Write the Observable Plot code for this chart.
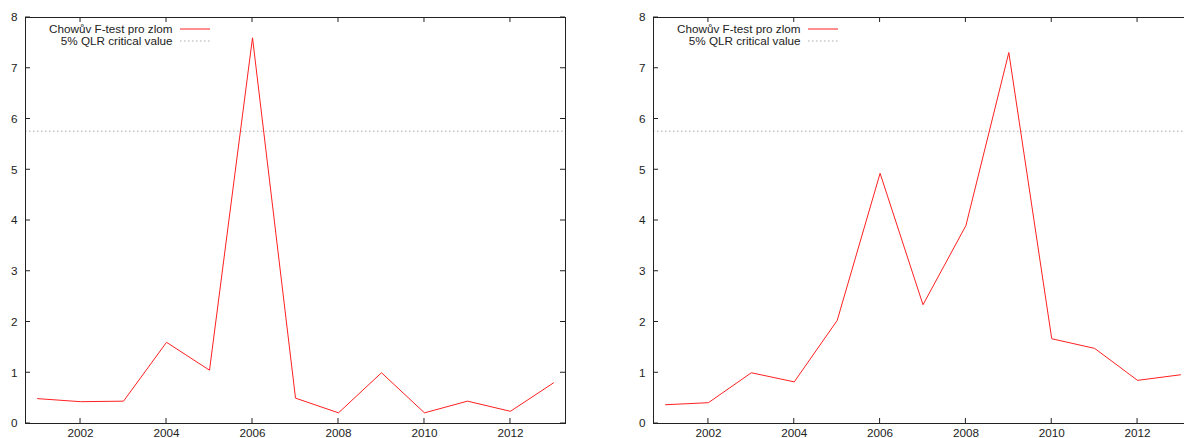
<!DOCTYPE html>
<html><head><meta charset="utf-8">
<script src="https://cdn.jsdelivr.net/npm/d3@7"></script>
<script src="https://cdn.jsdelivr.net/npm/@observablehq/plot@0.6"></script>
<style>
html,body{margin:0;padding:0;background:#fff;overflow:hidden;width:1184px;height:438px;}
#wrap{display:flex;flex-wrap:nowrap;width:1184px;}
#p1{flex:0 0 628px;width:628px;}
#p2{flex:0 0 556px;width:556px;}
</style></head><body><div id="wrap"><div id="p1"></div><div id="p2"></div></div>
<script>
const years = [2001, 2002, 2003, 2004, 2005, 2006, 2007, 2008, 2009, 2010, 2011, 2012, 2013];
const chowLeft = [0.49, 0.43, 0.44, 1.60, 1.05, 7.60, 0.50, 0.21, 1.00, 0.21, 0.44, 0.24, 0.80];
const chowRight = [0.37, 0.41, 1.00, 0.82, 2.03, 4.93, 2.34, 3.90, 7.31, 1.67, 1.48, 0.85, 0.96];
const criticalValue = 5.76;
const xTicks = [2002, 2004, 2006, 2008, 2010, 2012];
const yTicks = [0, 1, 2, 3, 4, 5, 6, 7, 8];
const legendLabels = ["Chowův F-test pro zlom", "5% QLR critical value"];
const xDomain = [2000.72, 2013.28];
const yDomain = [0, 8];

function panel(values, target, W, mR) {
  const data = years.map((year, i) => ({year, value: values[i]}));
  const H = 438, mL = 25, mT = 17, mB = 15;
  const plot = Plot.plot({
    width: W, height: H, marginLeft: mL, marginRight: mR, marginTop: mT, marginBottom: mB,
    style: {fontFamily: "'Liberation Sans', Arial, sans-serif", fontSize: "11.7px", color: "#222", background: "#fff"},
    x: {domain: xDomain, label: null},
    y: {domain: yDomain, label: null},
    marks: [
      Plot.ruleY([criticalValue], {stroke: "#aaa", strokeDasharray: "1.5,2.5"}),
      Plot.line(data, {x: "year", y: "value", stroke: "#ff2020", strokeWidth: 1}),
      Plot.axisX(xTicks, {anchor: "bottom", tickSize: 0, tickPadding: 5.5, tickFormat: d => String(d), label: null}),
      Plot.axisY(yTicks, {anchor: "left", tickSize: 0, tickPadding: 8, tickFormat: d => String(d), label: null}),
      Plot.frame({stroke: "#222", strokeWidth: 1}),
      Plot.text([legendLabels[0]], {frameAnchor: "top-left", dx: 147, dy: 12, textAnchor: "end", lineAnchor: "middle"}),
      Plot.text([legendLabels[1]], {frameAnchor: "top-left", dx: 147, dy: 24, textAnchor: "end", lineAnchor: "middle"})
    ]
  });
  const svg = d3.select(plot);
  const sx = plot.scale("x"), sy = plot.scale("y");
  const g = svg.append("g").attr("stroke", "#222").attr("stroke-width", 1);
  for (const t of xTicks) {
    const x = sx.apply(t);
    g.append("line").attr("x1", x).attr("x2", x).attr("y1", H - mB).attr("y2", H - mB - 5);
    g.append("line").attr("x1", x).attr("x2", x).attr("y1", mT).attr("y2", mT + 5);
  }
  for (const v of yTicks) {
    const y = sy.apply(v);
    g.append("line").attr("x1", mL).attr("x2", mL + 5).attr("y1", y).attr("y2", y);
    g.append("line").attr("x1", W - mR).attr("x2", W - mR - 5).attr("y1", y).attr("y2", y);
  }
  svg.append("line").attr("x1", mL + 155).attr("x2", mL + 185).attr("y1", mT + 12).attr("y2", mT + 12)
    .attr("stroke", "#ff2020").attr("stroke-width", 1);
  svg.append("line").attr("x1", mL + 155).attr("x2", mL + 185).attr("y1", mT + 24).attr("y2", mT + 24)
    .attr("stroke", "#aaa").attr("stroke-dasharray", "1.5,2.5");
  document.getElementById(target).appendChild(plot);
}
panel(chowLeft, "p1", 628, 63);
panel(chowRight, "p2", 556, -8);
</script></body></html>
